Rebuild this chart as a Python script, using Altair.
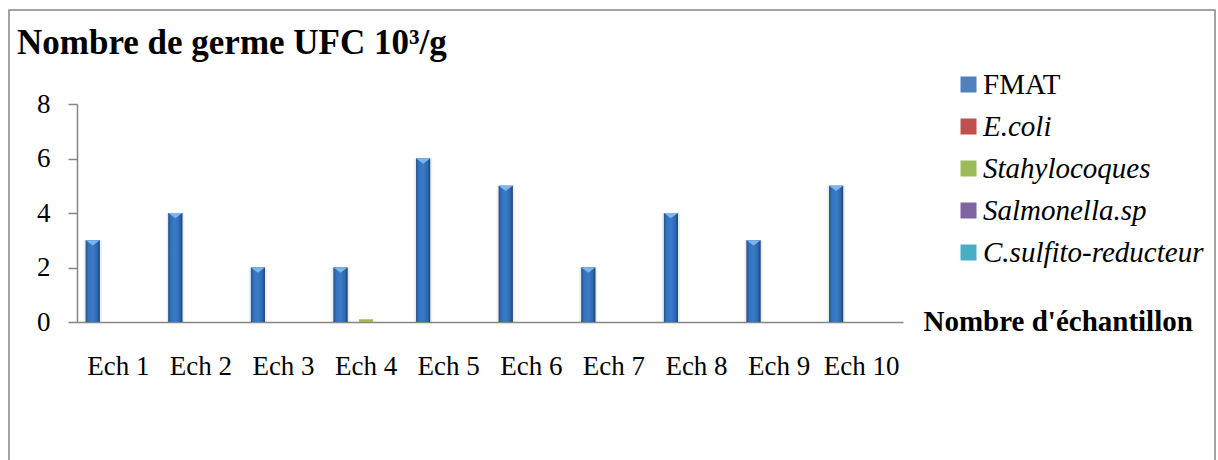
import altair as alt
import pandas as pd

# Samples and bacterial counts (UFC x 10^3 / g)
samples = ["Ech 1", "Ech 2", "Ech 3", "Ech 4", "Ech 5",
           "Ech 6", "Ech 7", "Ech 8", "Ech 9", "Ech 10"]
series = ["FMAT", "E.coli", "Stahylocoques", "Salmonella.sp", "C.sulfito-reducteur"]
fmat = [3, 4, 2, 2, 6, 5, 2, 4, 3, 5]
ecoli = [0, 0, 0, 0, 0, 0, 0, 0, 0, 0]
staph = [0, 0, 0, 0.1, 0, 0, 0, 0, 0, 0]
salmonella = [0, 0, 0, 0, 0, 0, 0, 0, 0, 0]
csulfito = [0, 0, 0, 0, 0, 0, 0, 0, 0, 0]
colors = ["#4F81BD", "#C0504D", "#9BBB59", "#8064A2", "#4BACC6"]

values_by_series = [fmat, ecoli, staph, salmonella, csulfito]
rows = []
for name, vals in zip(series, values_by_series):
    for s, v in zip(samples, vals):
        rows.append({"sample": s, "series": name, "value": v})
df = pd.DataFrame(rows)

FONT = "Liberation Serif"
AXIS_GREY = "#868686"
BAR_W = 14

x_enc = alt.X("sample:N", sort=samples,
              scale=alt.Scale(domain=samples, paddingInner=0, paddingOuter=0),
              axis=alt.Axis(title="Nombre d'échantillon", labelAngle=0,
                            labelFont=FONT, labelFontSize=27, labelColor="black",
                            labelPadding=31, ticks=False, tickSize=0,
                            domainColor=AXIS_GREY, domainWidth=1.5,
                            titleFont=FONT, titleFontSize=29, titleFontWeight="bold",
                            titleColor="black", titleX=846, titleY=8,
                            titleAlign="left", titleBaseline="alphabetic",
                            titleAngle=0))
xoff_enc = alt.XOffset("series:N", sort=series,
                       scale=alt.Scale(domain=series, paddingInner=0, paddingOuter=0.73))
y_enc = alt.Y("value:Q",
              scale=alt.Scale(domain=[0, 8], nice=False, zero=True),
              axis=alt.Axis(title=None, values=[0, 2, 4, 6, 8], grid=False,
                            labelFont=FONT, labelFontSize=27, labelColor="black",
                            labelPadding=18, tickSize=9, tickColor=AXIS_GREY,
                            tickWidth=1.5, domainColor=AXIS_GREY, domainWidth=1.5))

base = alt.Chart(df)
fmat_only = base.transform_filter(alt.datum.series == "FMAT")

# soft shadow behind the main bars
shadow = fmat_only.mark_bar(width=BAR_W + 4, color="black", opacity=0.07).encode(
    x=x_enc, xOffset=xoff_enc, y=y_enc
)

bars = base.mark_bar(width=BAR_W).encode(
    x=x_enc, xOffset=xoff_enc, y=y_enc,
    color=alt.Color("series:N", sort=series,
                    scale=alt.Scale(domain=series, range=colors),
                    legend=alt.Legend(
                        title=None, orient="none", legendX=877, legendY=-34,
                        labelFont=FONT, labelFontSize=29, labelColor="black", labelLimit=400,
                        labelFontStyle=alt.ExprRef("datum.label == 'FMAT' ? 'normal' : 'italic'"),
                        symbolType="square", symbolSize=256, symbolStrokeWidth=0,
                        rowPadding=12, labelOffset=0, padding=0)),
)

# bevelled look for the main series
bevel = fmat_only.mark_bar(
    width=BAR_W,
    fill=alt.Gradient(gradient="linear", x1=0, x2=1, y1=0, y2=0,
                      stops=[alt.GradientStop(offset=0, color="#24508a"),
                             alt.GradientStop(offset=0.18, color="#3272bd"),
                             alt.GradientStop(offset=0.5, color="#3a7bc8"),
                             alt.GradientStop(offset=0.82, color="#2e68ae"),
                             alt.GradientStop(offset=1, color="#1b4172")]),
).encode(x=x_enc, xOffset=xoff_enc, y=y_enc)

cap = fmat_only.mark_point(
    shape="M-1,0 L1,0 L0,0.75 Z", size=BAR_W * BAR_W, filled=True,
    color="#7db4f0", opacity=1, strokeWidth=0,
).encode(x=x_enc, xOffset=xoff_enc, y=y_enc)

frame = alt.Chart(alt.Data(values=[{}])).mark_rect(
    filled=False, stroke=AXIS_GREY, strokeWidth=1.5
).encode(x=alt.value(-68), x2=alt.value(1138), y=alt.value(-94), y2=alt.value(420))

chart = alt.layer(frame, shadow, bars, bevel, cap).properties(
    width=826, height=218,
    background="white",
    title=alt.TitleParams("Nombre de germe UFC 10³/g", anchor="start", frame="group",
                          font=FONT, fontSize=35, fontWeight="bold", color="black",
                          baseline="alphabetic", dx=-60, dy=80, offset=0),
    padding={"left": 77, "top": 104, "right": 315, "bottom": 138},
    autosize=alt.AutoSizeParams(type="none"),
).configure(
    font=FONT
).configure_view(
    stroke=None
).configure_axis(
    labelFont=FONT, titleFont=FONT
).configure_legend(
    labelFont=FONT
)

chart.save("out.html", embed_options={"renderer": "svg", "actions": False})
